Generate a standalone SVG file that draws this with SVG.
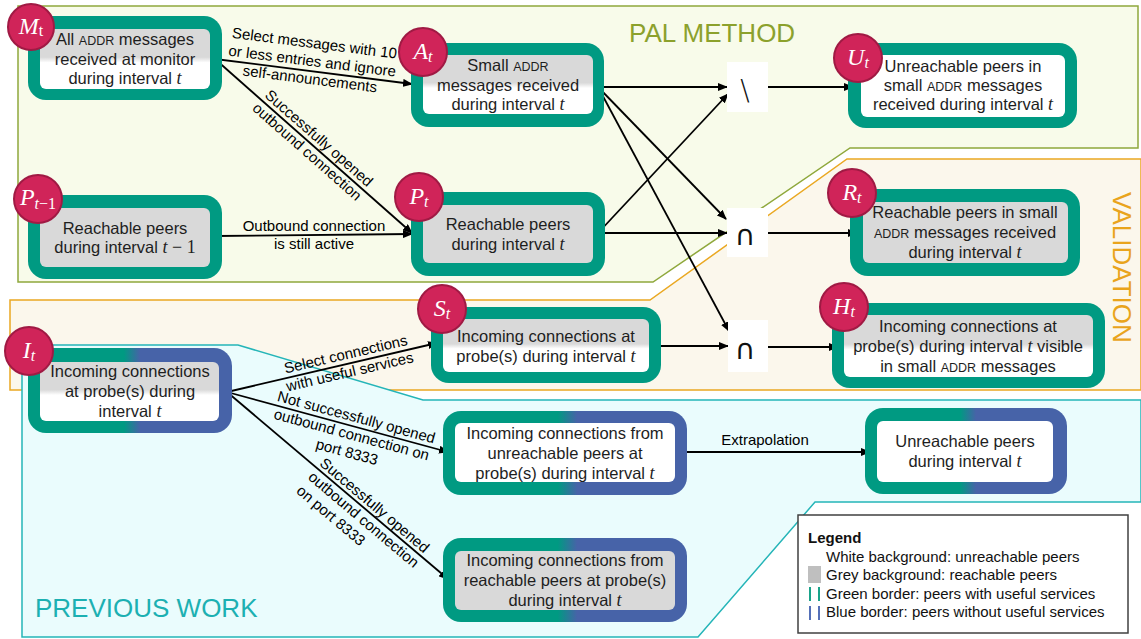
<svg xmlns="http://www.w3.org/2000/svg" width="1141" height="639" viewBox="0 0 1141 639">
<style>
.nt{font-family:"Liberation Sans",Arial,sans-serif;font-size:16.5px;fill:#1e1e1e;text-anchor:middle}
.sc{font-size:12.5px}
.m{font-family:"Liberation Serif","Times New Roman",serif;font-style:italic;font-size:18px}
.mu{font-family:"Liberation Serif","Times New Roman",serif;font-size:18px}
.cl{font-family:"Liberation Sans",Arial,sans-serif;font-size:15px;fill:#000;text-anchor:middle}
.teal{fill:#009a82}
.split{fill:url(#tb)}
.grey{fill:#d9d9d9}
.white{fill:#ffffff}
.gw{fill:url(#gw)}
.circ{fill:#d02459;stroke:#a01a44;stroke-width:2}
.ct{font-family:"Liberation Serif","Times New Roman",serif;font-style:italic;font-size:24px;fill:#fff;text-anchor:middle}
.sub{font-size:16px}
.con{stroke:#000;stroke-width:1.8;fill:none;marker-end:url(#ah)}
.op{font-family:"DejaVu Sans",sans-serif;font-size:28px;fill:#111;text-anchor:middle}
.rt{font-family:"Liberation Sans",Arial,sans-serif;font-size:26px}
.lg{font-family:"Liberation Sans",Arial,sans-serif;font-size:15px;fill:#111}
</style>
<defs>
<linearGradient id="gw" x1="0" y1="0" x2="0" y2="1"><stop offset="0.47" stop-color="#d9d9d9"/><stop offset="0.56" stop-color="#ffffff"/></linearGradient>
<linearGradient id="tb" x1="0" y1="0" x2="1" y2="0"><stop offset="0.47" stop-color="#009a82"/><stop offset="0.55" stop-color="#4763a8"/></linearGradient>
<marker id="ah" markerWidth="10" markerHeight="8" refX="9" refY="4" orient="auto" markerUnits="userSpaceOnUse"><path d="M0,0 L10,4 L0,8 z" fill="#000"/></marker>
</defs>
<rect width="1141" height="639" fill="#fff"/>
<g id="regions">
<polygon points="18,6 1138,6 1138,148 850,148 653,282 18,282" fill="#f8fbea" stroke="#8fa83c" stroke-width="1.5"/>
<polygon points="10,300 650,300 847,159 1141,159 1141,390 10,390" fill="#fbf7ec" stroke="#eaa822" stroke-width="1.5"/>
<polygon points="22,345 238,345 423,400 1141,400 1141,502 815,502 698,637 22,637" fill="#eafcfd" stroke="#25b5b8" stroke-width="1.5"/>
<text class="rt" x="629" y="42" fill="#8ca12c">PAL METHOD</text>
<text class="rt" transform="translate(1113,192) rotate(90)" fill="#e9a41c">VALIDATION</text>
<text class="rt" x="35" y="617" fill="#1cb0b2">PREVIOUS WORK</text>
</g>
<g id="connectors">
<line class="con" x1="215" y1="59" x2="412" y2="84"/>
<line class="con" x1="215" y1="59" x2="412" y2="233"/>
<line class="con" x1="216" y1="236" x2="412" y2="234"/>
<line class="con" x1="598" y1="87" x2="727" y2="87"/>
<line class="con" x1="598" y1="87" x2="726" y2="219"/>
<line class="con" x1="598" y1="87" x2="729" y2="331"/>
<line class="con" x1="598" y1="233" x2="728" y2="94"/>
<line class="con" x1="598" y1="233" x2="727" y2="233"/>
<line class="con" x1="768" y1="87" x2="853" y2="87"/>
<line class="con" x1="768" y1="233" x2="857" y2="233"/>
<line class="con" x1="655" y1="346" x2="728" y2="346"/>
<line class="con" x1="766" y1="347" x2="838" y2="347"/>
<line class="con" x1="227" y1="392" x2="437" y2="343"/>
<line class="con" x1="227" y1="392" x2="448" y2="452"/>
<line class="con" x1="227" y1="392" x2="448" y2="579"/>
<line class="con" x1="681" y1="452" x2="870" y2="452"/>
<g transform="translate(311,71) rotate(7.2)">
<text class="cl" x="0" y="-23">Select messages with 10</text>
<text class="cl" x="0" y="-5">or less entries and ignore</text>
<text class="cl" x="0" y="13">self-announcements</text>
</g>
<g transform="translate(313,145) rotate(41.3)">
<text class="cl" x="0" y="-4">Successfully opened</text>
<text class="cl" x="0" y="14">outbound connection</text>
</g>
<text class="cl" x="314" y="231">Outbound connection</text>
<text class="cl" x="314" y="249">is still active</text>
<g transform="translate(348,364) rotate(-13.1)">
<text class="cl" x="0" y="-5">Select connections</text>
<text class="cl" x="0" y="13">with useful services</text>
</g>
<g transform="translate(354,426) rotate(15.2)">
<text class="cl" x="0" y="-4">Not successfully opened</text>
<text class="cl" x="0" y="14">outbound connection on</text>
<text class="cl" x="0" y="32">port 8333</text>
</g>
<g transform="translate(322,461) rotate(40.2)">
<text class="cl" x="0" y="5" style="text-anchor:start">Successfully opened</text>
<text class="cl" x="0" y="23" style="text-anchor:start">outbound connection</text>
<text class="cl" x="0" y="41" style="text-anchor:start">on port 8333</text>
</g>
<text class="cl" x="765" y="445">Extrapolation</text>
</g>
<g id="M_t">
<rect class="teal" x="28" y="16" width="194" height="84" rx="18"/>
<rect class="gw" x="40" y="29" width="170" height="60" rx="6"/>
<text class="nt" x="125" y="45">All <tspan class="sc">ADDR</tspan> messages</text>
<text class="nt" x="125" y="65">received at monitor</text>
<text class="nt" x="125" y="84">during interval <tspan class="m">t</tspan></text>
<circle class="circ" cx="31" cy="27" r="23"/>
<text class="ct" x="31" y="34">M<tspan class="sub" font-style="normal" dy="2">t</tspan></text>
</g>
<g id="A_t">
<rect class="teal" x="411" y="43" width="193" height="84" rx="18"/>
<rect class="gw" x="423" y="55" width="170" height="59" rx="6"/>
<text class="nt" x="508" y="71">Small <tspan class="sc">ADDR</tspan></text>
<text class="nt" x="508" y="91">messages received</text>
<text class="nt" x="508" y="110">during interval <tspan class="m">t</tspan></text>
<circle class="circ" cx="423" cy="52" r="24"/>
<text class="ct" x="423" y="59">A<tspan class="sub" dy="3">t</tspan></text>
</g>
<g id="U_t">
<rect class="teal" x="848" y="43" width="229" height="85" rx="18"/>
<rect class="white" x="861" y="55" width="204" height="62" rx="6"/>
<text class="nt" x="963" y="72">Unreachable peers in</text>
<text class="nt" x="963" y="91">small <tspan class="sc">ADDR</tspan> messages</text>
<text class="nt" x="963" y="110">received during interval <tspan class="m">t</tspan></text>
<circle class="circ" cx="858" cy="58" r="24"/>
<text class="ct" x="858" y="65">U<tspan class="sub" dy="3">t</tspan></text>
</g>
<g id="op_minus">
<rect class="white" x="727" y="62" width="41" height="50"/>
<text class="op" x="745" y="100" style="font-weight:200">\</text>
</g>
<g id="P_t-1">
<rect class="teal" x="28" y="195" width="194" height="84" rx="18"/>
<rect class="grey" x="40" y="208" width="170" height="59" rx="6"/>
<text class="nt" x="125" y="234">Reachable peers</text>
<text class="nt" x="125" y="253">during interval <tspan class="m">t</tspan><tspan class="mu"> − 1</tspan></text>
<circle class="circ" cx="38" cy="199" r="24"/>
<text class="ct" x="38" y="205">P<tspan class="sub" dy="4">t</tspan><tspan class="sub" font-style="normal">−1</tspan></text>
</g>
<g id="P_t">
<rect class="teal" x="411" y="192" width="194" height="84" rx="18"/>
<rect class="grey" x="423" y="205" width="170" height="58" rx="6"/>
<text class="nt" x="508" y="230">Reachable peers</text>
<text class="nt" x="508" y="250">during interval <tspan class="m">t</tspan></text>
<circle class="circ" cx="419" cy="197" r="24"/>
<text class="ct" x="419" y="204">P<tspan class="sub" dy="3">t</tspan></text>
</g>
<g id="op_cap1">
<rect class="white" x="727" y="208" width="41" height="49"/>
<text class="op" x="745" y="245">∩</text>
</g>
<g id="R_t">
<rect class="teal" x="850" y="189" width="230" height="87" rx="18"/>
<rect class="grey" x="863" y="202" width="205" height="61" rx="6"/>
<text class="nt" x="965" y="218">Reachable peers in small</text>
<text class="nt" x="965" y="238"><tspan class="sc">ADDR</tspan> messages received</text>
<text class="nt" x="965" y="258">during interval <tspan class="m">t</tspan></text>
<circle class="circ" cx="852" cy="193" r="24"/>
<text class="ct" x="852" y="200">R<tspan class="sub" dy="3">t</tspan></text>
</g>
<g id="S_t">
<rect class="teal" x="431" y="307" width="230" height="76" rx="18"/>
<rect class="gw" x="443" y="319" width="206" height="53" rx="6"/>
<text class="nt" x="546" y="342">Incoming connections at</text>
<text class="nt" x="546" y="362">probe(s) during interval <tspan class="m">t</tspan></text>
<circle class="circ" cx="442" cy="309" r="24"/>
<text class="ct" x="442" y="316">S<tspan class="sub" dy="3">t</tspan></text>
</g>
<g id="op_cap2">
<rect class="white" x="728" y="320" width="40" height="52"/>
<text class="op" x="745" y="359">∩</text>
</g>
<g id="H_t">
<rect class="teal" x="832" y="303" width="273" height="85" rx="18"/>
<rect class="gw" x="844" y="315" width="249" height="62" rx="6"/>
<text class="nt" x="968" y="332">Incoming connections at</text>
<text class="nt" x="968" y="352">probe(s) during interval <tspan class="m">t</tspan> visible</text>
<text class="nt" x="968" y="372">in small <tspan class="sc">ADDR</tspan> messages</text>
<circle class="circ" cx="844" cy="307" r="24"/>
<text class="ct" x="844" y="314">H<tspan class="sub" dy="3">t</tspan></text>
</g>
<g id="I_t">
<rect class="split" x="28" y="348" width="204" height="85" rx="18"/>
<rect class="gw" x="40" y="362" width="179" height="59" rx="6"/>
<text class="nt" x="130" y="377">Incoming connections</text>
<text class="nt" x="130" y="397">at probe(s) during</text>
<text class="nt" x="130" y="417">interval <tspan class="m">t</tspan></text>
<circle class="circ" cx="29" cy="351" r="24"/>
<text class="ct" x="29" y="358">I<tspan class="sub" dy="3">t</tspan></text>
</g>
<g id="unreachable_incoming">
<rect class="split" x="443" y="411" width="244" height="84" rx="18"/>
<rect class="white" x="455" y="423" width="220" height="59" rx="6"/>
<text class="nt" x="565" y="439">Incoming connections from</text>
<text class="nt" x="565" y="459">unreachable peers at</text>
<text class="nt" x="565" y="479">probe(s) during interval <tspan class="m">t</tspan></text>
</g>
<g id="reachable_incoming">
<rect class="split" x="443" y="538" width="244" height="84" rx="18"/>
<rect class="grey" x="455" y="551" width="220" height="59" rx="6"/>
<text class="nt" x="565" y="566">Incoming connections from</text>
<text class="nt" x="565" y="586">reachable peers at probe(s)</text>
<text class="nt" x="565" y="606">during interval <tspan class="m">t</tspan></text>
</g>
<g id="unreachable_peers">
<rect class="split" x="865" y="408" width="202" height="86" rx="18"/>
<rect class="white" x="877" y="421" width="176" height="61" rx="6"/>
<text class="nt" x="965" y="447">Unreachable peers</text>
<text class="nt" x="965" y="467">during interval <tspan class="m">t</tspan></text>
</g>
<g id="legend">
<rect x="798" y="515" width="330" height="118" fill="#fff" stroke="#404040" stroke-width="1.5"/>
<text class="lg" x="808" y="543" font-weight="bold">Legend</text>
<text class="lg" x="826" y="562">White background: unreachable peers</text>
<rect x="808" y="566" width="13" height="17" fill="#bfbfbf"/>
<text class="lg" x="826" y="580">Grey background: reachable peers</text>
<rect x="809" y="587" width="2" height="14" fill="#1aa38a"/>
<rect x="818" y="587" width="2" height="14" fill="#1aa38a"/>
<text class="lg" x="826" y="599">Green border: peers with useful services</text>
<rect x="809" y="606" width="2" height="14" fill="#5570b8"/>
<rect x="818" y="606" width="2" height="14" fill="#5570b8"/>
<text class="lg" x="826" y="617">Blue border: peers without useful services</text>
</g>
</svg>
